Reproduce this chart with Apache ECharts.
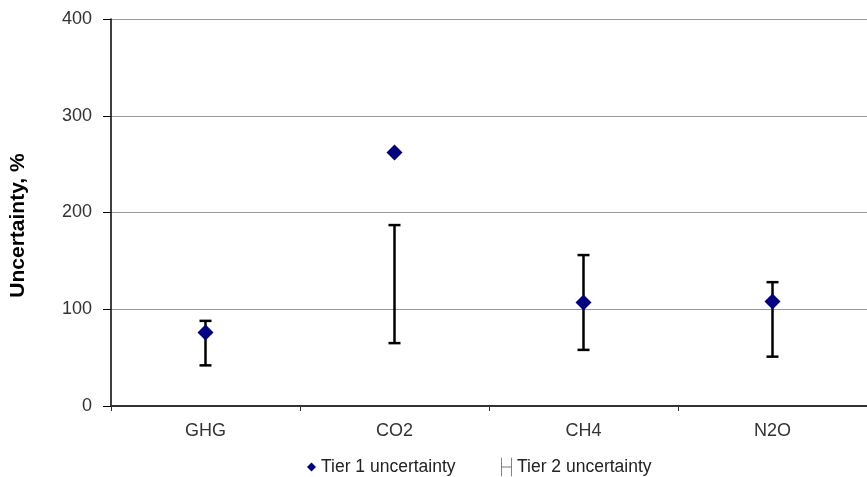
<!DOCTYPE html>
<html>
<head>
<meta charset="utf-8">
<script src="https://cdn.jsdelivr.net/npm/echarts@6/dist/echarts.min.js"></script>
<style>
html,body{margin:0;padding:0;background:#fff;}
#chart{width:867px;height:477px;}
</style>
</head>
<body>
<div id="chart"></div>
<script>
const categories = ['GHG', 'CO2', 'CH4', 'N2O'];
const tier1 = [76, 262, 107, 108];
const tier2Low = [42, 65, 58, 51];
const tier2High = [88, 187, 156, 128];
const yTicks = [0, 100, 200, 300, 400];

const chart = echarts.init(document.getElementById('chart'));
const errData = categories.map((c, i) => [i, tier2Low[i], tier2High[i]]);
const FONT = '"Liberation Sans", Arial, sans-serif';

chart.setOption({
  animation: false,
  grid: { left: 110, top: 19, width: 764, bottom: 71, containLabel: false },
  legend: [
    {
      data: [{ name: 'Tier 1 uncertainty', icon: 'diamond' }],
      left: 302, top: 452, itemWidth: 9, itemHeight: 9, itemGap: 3,
      textStyle: { fontFamily: FONT, fontSize: 17.5, color: '#222', lineHeight: 20 },
      selectedMode: false
    },
    {
      data: [{ name: 'Tier 2 uncertainty',
        icon: 'path://M0,0 L1,0 L1,20 L0,20 Z M11,0 L12,0 L12,20 L11,20 Z M1,9.5 L11,9.5 L11,10.5 L1,10.5 Z',
        itemStyle: { color: '#777' } }],
      left: 496, top: 452, itemWidth: 11, itemHeight: 19, itemGap: 8,
      textStyle: { fontFamily: FONT, fontSize: 17.5, color: '#222', lineHeight: 20 },
      selectedMode: false
    }
  ],
  xAxis: {
    type: 'category',
    data: categories,
    boundaryGap: true,
    axisLine: { lineStyle: { color: '#333', width: 2 } },
    axisTick: { show: true, alignWithLabel: false, length: 5, lineStyle: { color: '#333', width: 1 } },
    axisLabel: { margin: 16, fontFamily: FONT, fontSize: 18, color: '#333' },
    splitLine: { show: false }
  },
  yAxis: {
    type: 'value',
    min: 0, max: 400, interval: 100,
    name: 'Uncertainty, %',
    nameLocation: 'middle',
    nameGap: 82,
    nameTextStyle: { fontFamily: FONT, fontSize: 21, fontWeight: 'bold', color: '#000', padding: [0, 26, 0, 0] },
    axisLine: { show: true, lineStyle: { color: '#000', width: 1.5 } },
    axisTick: { show: true, length: 8, lineStyle: { color: '#000', width: 1 } },
    axisLabel: { margin: 19, fontFamily: FONT, fontSize: 18, color: '#333',
      formatter: v => yTicks.includes(v) ? String(v) : '' },
    splitLine: { show: true, lineStyle: { color: '#999', width: 1 } }
  },
  series: [
    {
      name: 'Tier 2 uncertainty',
      type: 'custom',
      itemStyle: { color: '#777' },
      z: 2,
      encode: { x: 0, y: [1, 2] },
      data: errData,
      renderItem: function (params, api) {
        const x = api.value(0);
        const pLo = api.coord([x, api.value(1)]);
        const pHi = api.coord([x, api.value(2)]);
        const hw = 6;
        const st = { stroke: '#000', lineWidth: 2.5 };
        return {
          type: 'group',
          children: [
            { type: 'line', shape: { x1: pHi[0], y1: pHi[1], x2: pLo[0], y2: pLo[1] }, style: st },
            { type: 'line', shape: { x1: pHi[0] - hw, y1: pHi[1], x2: pHi[0] + hw, y2: pHi[1] }, style: st },
            { type: 'line', shape: { x1: pLo[0] - hw, y1: pLo[1], x2: pLo[0] + hw, y2: pLo[1] }, style: st }
          ]
        };
      }
    },
    {
      name: 'Tier 1 uncertainty',
      type: 'scatter',
      symbol: 'diamond',
      symbolSize: [16, 16],
      z: 5,
      itemStyle: { color: '#000080', opacity: 1 },
      data: tier1
    }
  ]
});
</script>
</body>
</html>
